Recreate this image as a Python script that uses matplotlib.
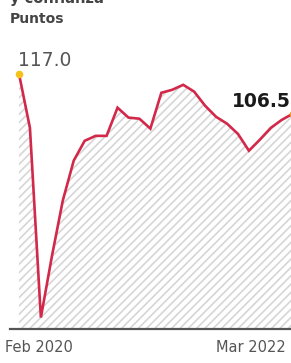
import matplotlib
matplotlib.use("Agg")
import matplotlib.pyplot as plt
import numpy as np

# Data (monthly index, Feb 2020 - Mar 2022)
months = ["Feb 2020", "Mar 2020", "Apr 2020", "May 2020", "Jun 2020", "Jul 2020",
          "Aug 2020", "Sep 2020", "Oct 2020", "Nov 2020", "Dec 2020", "Jan 2021",
          "Feb 2021", "Mar 2021", "Apr 2021", "May 2021", "Jun 2021", "Jul 2021",
          "Aug 2021", "Sep 2021", "Oct 2021", "Nov 2021", "Dec 2021", "Jan 2022",
          "Feb 2022", "Mar 2022"]
values = [117.0, 102.8, 53.0, 69.0, 83.7, 94.2, 99.4, 100.7, 100.7, 108.1,
          105.5, 105.2, 102.6, 112.0, 112.8, 114.1, 112.3, 108.6, 105.7, 103.9,
          101.2, 96.8, 99.7, 102.8, 104.9, 106.5]
tick_labels = ["Feb 2020", "Mar 2022"]
unit_label = "Puntos"
title_tail = "y confianza"

W, H = 291, 363
fig = plt.figure(figsize=(W / 100, H / 100), dpi=100)
fig.patch.set_facecolor("white")

x = np.arange(len(values))
x0, x1 = -0.82, 25.5
y0, y1 = 50, 120
left_px, bottom_px = 10, 34
step = 10.95
w_px = (x1 - x0) * step
h_px = (y1 - y0) / 0.2625
ax = fig.add_axes([left_px / W, bottom_px / H, w_px / W, h_px / H])
ax.set_xlim(x0, x1)
ax.set_ylim(y0, y1)
for s in ["top", "right", "left"]:
    ax.spines[s].set_visible(False)
ax.spines["bottom"].set_color("#555555")
ax.spines["bottom"].set_linewidth(1.6)
ax.set_yticks([])
ax.set_xticks([])

plt.rcParams["hatch.linewidth"] = 1.2
ax.fill_between(x, values, y0, facecolor="white", edgecolor="#d6d6d6",
                hatch="////", linewidth=0, zorder=1)
ax.plot(x, values, color="#d2284a", lw=1.9, zorder=3, solid_joinstyle="miter")
ax.scatter([x[0]], [values[0]], s=30, color="#f4c21b", zorder=4, lw=0)
ax.scatter([x[-1]], [values[-1]], s=30, color="#f39a1e", zorder=4, lw=0)

ax.annotate(f"{values[0]:.1f}", (x[0], values[0]), xytext=(-1, 2.5),
            textcoords="offset points", ha="left", va="bottom",
            fontsize=13.5, color="#555555")
ax.annotate(f"{values[-1]:.1f}", (x[-1], values[-1]), xytext=(-44, 2),
            textcoords="offset points", ha="left", va="bottom",
            fontsize=13.5, color="#1a1a1a", fontweight="bold")

# axis labels at the ends
ax.annotate(tick_labels[0], (x[0], 0), xycoords=("data", "axes fraction"),
            xytext=(-10, -8), textcoords="offset points", ha="left", va="top",
            fontsize=10.5, color="#555555")
ax.annotate(tick_labels[1], (x[-1], 0), xycoords=("data", "axes fraction"),
            xytext=(-55, -8), textcoords="offset points", ha="left", va="top",
            fontsize=10.5, color="#555555")

fig.text(10 / W, 1 - 19 / H, unit_label, ha="left", va="center",
         fontsize=10, fontweight="bold", color="#444444")
fig.text(10 / W, 1 + 2 / H, title_tail, ha="left", va="center",
         fontsize=10.5, fontweight="bold", color="#444444")

fig.savefig("out.png", dpi=100, facecolor="white")
